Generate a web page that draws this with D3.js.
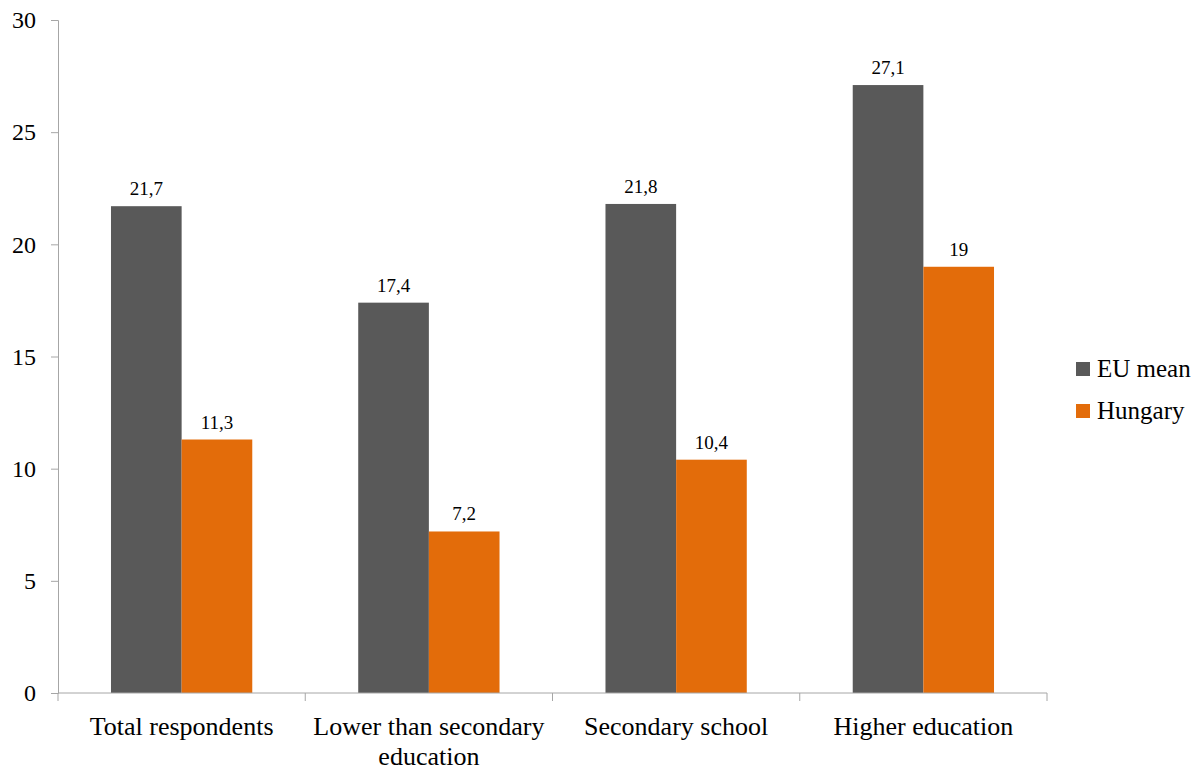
<!DOCTYPE html>
<html>
<head>
<meta charset="utf-8">
<script src="https://cdn.jsdelivr.net/npm/d3@7"></script>
<style>
  body { margin: 0; background: #fff; }
</style>
</head>
<body>
<div id="chart"></div>
<script>
// data
const categories = [["Total respondents"], ["Lower than secondary", "education"], ["Secondary school"], ["Higher education"]];
const seriesNames = ["EU mean", "Hungary"];
const euMean = [21.7, 17.4, 21.8, 27.1];
const hungary = [11.3, 7.2, 10.4, 19];
const yTicks = [0, 5, 10, 15, 20, 25, 30];
const colors = ["#595959", "#E36C0A"];

const font = "'Liberation Serif', serif";
const width = 1201, height = 771;
const margin = {top: 20, right: 154, bottom: 78, left: 58};
const w = 1047 - margin.left, h = 693 - margin.top;

const svg = d3.select("#chart").append("svg")
    .attr("width", width)
    .attr("height", height)
  .append("g")
    .attr("transform", "translate(" + margin.left + "," + margin.top + ")");

const x0 = d3.scaleBand().domain(d3.range(categories.length)).range([0, w]).padding(0);
const x1 = d3.scaleBand().domain(d3.range(seriesNames.length)).range([0, x0.bandwidth()])
    .paddingInner(0).paddingOuter(0.75);
const y = d3.scaleLinear().domain([0, 30]).range([h, 0]);

// y axis
const yAxis = svg.append("g")
    .call(d3.axisLeft(y).tickValues(yTicks).tickSize(7).tickPadding(15));
yAxis.attr("font-family", null);
yAxis.select(".domain").attr("stroke", "#a6a6a6");
yAxis.selectAll(".tick line").attr("stroke", "#a6a6a6");
yAxis.selectAll(".tick text")
    .style("font-family", font).style("font-size", "24px").attr("fill", "#000");

// bars
const series = [euMean, hungary];
const groups = svg.selectAll(".cat").data(d3.range(categories.length)).join("g")
    .attr("class", "cat")
    .attr("transform", i => "translate(" + x0(i) + ",0)");

groups.selectAll("rect").data(i => series.map((s, k) => ({k: k, v: s[i]}))).join("rect")
    .attr("x", d => x1(d.k))
    .attr("y", d => y(d.v))
    .attr("width", x1.bandwidth())
    .attr("height", d => h - y(d.v))
    .attr("fill", d => colors[d.k]);

groups.selectAll(".lbl").data(i => series.map((s, k) => ({k: k, v: s[i]}))).join("text")
    .attr("class", "lbl")
    .attr("x", d => x1(d.k) + x1.bandwidth() / 2)
    .attr("y", d => y(d.v) - 11)
    .attr("text-anchor", "middle")
    .style("font-family", font)
    .style("font-size", "19px")
    .text(d => String(d.v).replace(".", ","));

// x axis
const xAxis = svg.append("g").attr("transform", "translate(0," + h + ")");
xAxis.append("line").attr("x1", 0).attr("x2", w).attr("stroke", "#a6a6a6");
xAxis.selectAll(".xtick").data(d3.range(categories.length + 1)).join("line")
    .attr("class", "xtick")
    .attr("x1", i => i * x0.step()).attr("x2", i => i * x0.step())
    .attr("y1", 0).attr("y2", 8)
    .attr("stroke", "#a6a6a6");
xAxis.selectAll(".xlbl").data(categories).join("text")
    .attr("class", "xlbl")
    .attr("text-anchor", "middle")
    .attr("transform", (d, i) => "translate(" + (x0(i) + x0.bandwidth() / 2) + ",42)")
    .style("font-family", font)
    .style("font-size", "26px")
    .selectAll("tspan").data(d => d).join("tspan")
    .attr("x", 0)
    .attr("dy", (d, j) => j === 0 ? 0 : 30)
    .text(d => d);

// legend
const legend = svg.append("g").attr("transform", "translate(" + (1076 - margin.left) + "," + (369 - margin.top) + ")");
seriesNames.forEach((name, k) => {
  const row = legend.append("g").attr("transform", "translate(0," + k * 42 + ")");
  row.append("rect").attr("x", 0).attr("y", -7).attr("width", 14).attr("height", 14).attr("fill", colors[k]);
  row.append("text").attr("x", 21).attr("y", 8)
      .style("font-family", font).style("font-size", "25px").text(name);
});
</script>
</body>
</html>
